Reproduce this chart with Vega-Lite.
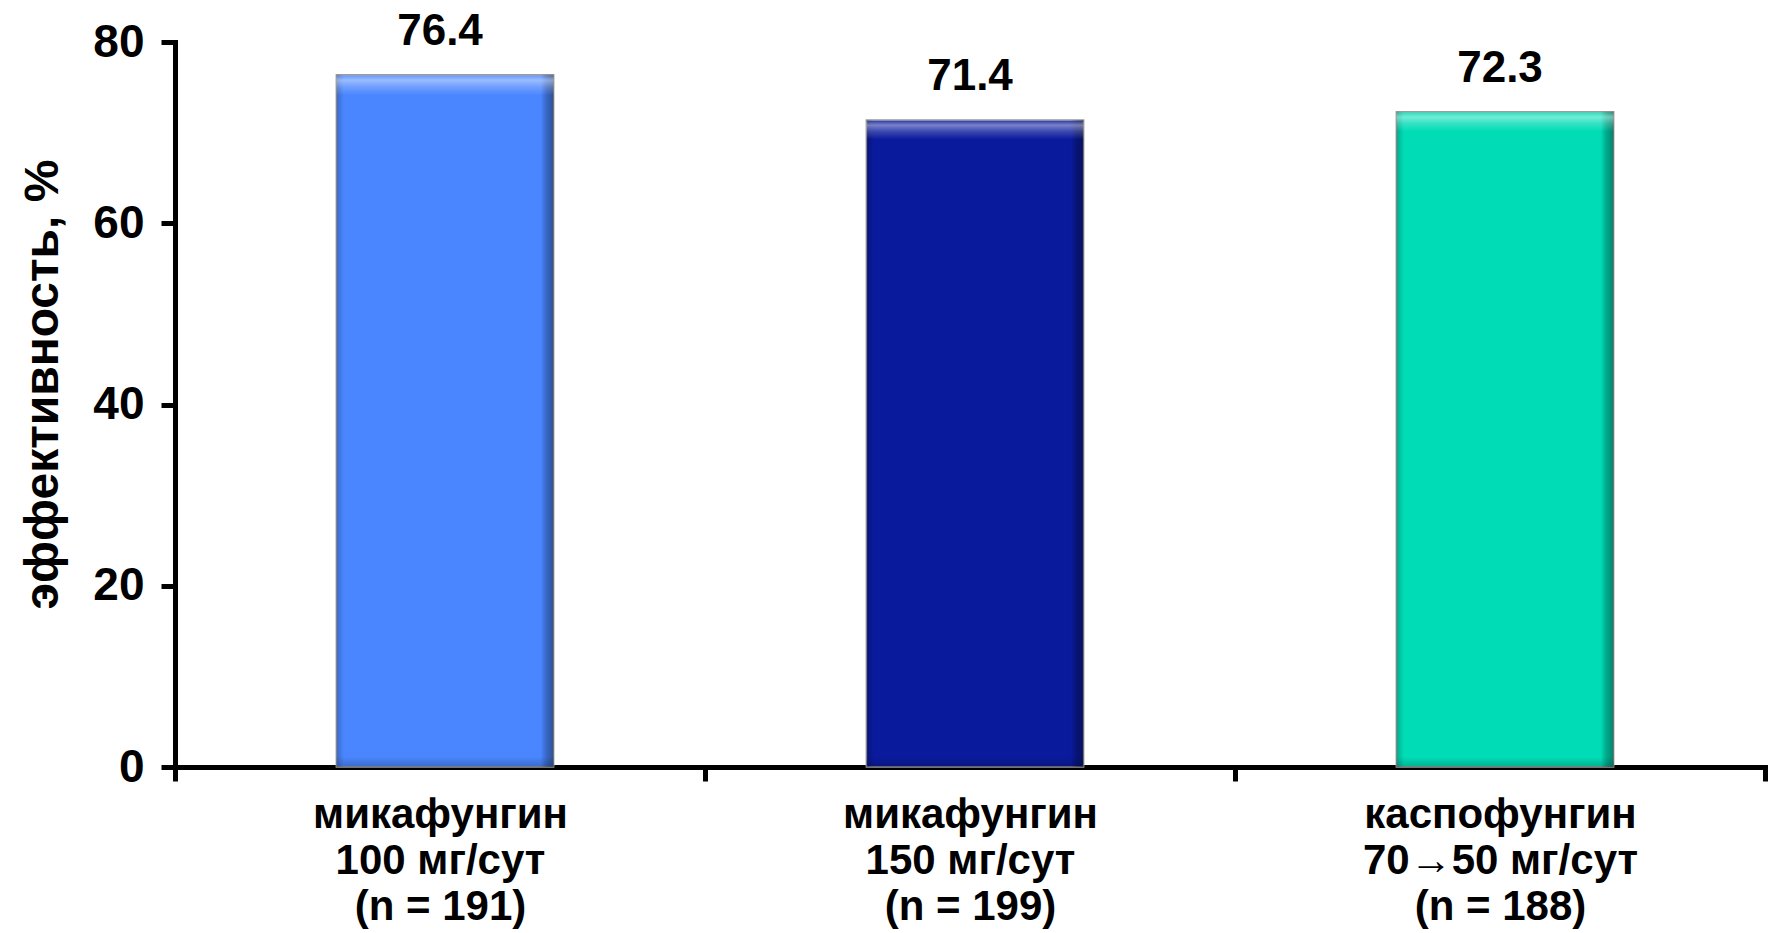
{
  "$schema": "https://vega.github.io/schema/vega-lite/v6.json",
  "width": 1590,
  "height": 725,
  "autosize": {"type": "none"},
  "padding": {"left": 175, "top": 42, "right": 7, "bottom": 166},
  "background": "white",
  "config": {
    "view": {"stroke": null},
    "font": "Liberation Sans",
    "axis": {
      "domainColor": "black",
      "domainWidth": 5,
      "domainCap": "square",
      "tickColor": "black",
      "tickWidth": 5,
      "tickSize": 14,
      "labelFont": "Liberation Sans",
      "labelFontWeight": "bold",
      "labelFontSize": 44,
      "labelColor": "black",
      "grid": false,
      "zindex": 1
    }
  },
  "data": {
    "values": [
      {"group": "микафунгин|100 мг/сут|(n = 191)", "efficacy": 76.4},
      {"group": "микафунгин|150 мг/сут|(n = 199)", "efficacy": 71.4},
      {"group": "каспофунгин|70→50 мг/сут|(n = 188)", "efficacy": 72.3}
    ]
  },
  "encoding": {
    "x": {
      "field": "group",
      "type": "nominal",
      "sort": null,
      "scale": {"paddingInner": 0, "paddingOuter": 0},
      "axis": {
        "title": null,
        "labelAngle": 0,
        "labelExpr": "split(datum.label, '|')",
        "labelFontSize": 42,
        "labelLineHeight": 46,
        "labelPadding": 13,
        "labelLimit": 0,
        "tickBand": "extent"
      }
    },
    "y": {
      "field": "efficacy",
      "type": "quantitative",
      "scale": {"domain": [0, 80], "nice": false},
      "axis": {
        "values": [0, 20, 40, 60, 80],
        "labelFontSize": 46,
        "labelPadding": 17,
        "labelFlush": false,
        "title": "эффективность, %",
        "titleFont": "Liberation Sans",
        "titleFontSize": 48,
        "titleFontWeight": "bold",
        "titleColor": "black",
        "titleAngle": -90,
        "titleAlign": "center",
        "titleBaseline": "middle",
        "titleX": -132,
        "titleY": 342
      }
    }
  },
  "layer": [
    {
      "mark": {"type": "bar", "width": {"band": 0.41}, "xOffset": 5, "stroke": "#9a9a9a", "strokeWidth": 1.5},
      "encoding": {
        "color": {
          "field": "group",
          "type": "nominal",
          "scale": {
            "domain": [
              "микафунгин|100 мг/сут|(n = 191)",
              "микафунгин|150 мг/сут|(n = 199)",
              "каспофунгин|70→50 мг/сут|(n = 188)"
            ],
            "range": ["#4A86FF", "#0A1A9C", "#00DCB5"]
          },
          "legend": null
        }
      }
    },
    {
      "mark": {
        "type": "bar",
        "width": {"band": 0.41},
        "xOffset": 5,
        "fill": {
          "gradient": "linear",
          "x1": 0, "y1": 0, "x2": 1, "y2": 0,
          "stops": [
            {"offset": 0, "color": "rgba(0,0,0,0.22)"},
            {"offset": 0.035, "color": "rgba(0,0,0,0)"},
            {"offset": 0.94, "color": "rgba(0,0,0,0)"},
            {"offset": 0.965, "color": "rgba(0,0,0,0.22)"},
            {"offset": 1, "color": "rgba(0,0,0,0.4)"}
          ]
        }
      }
    },
    {
      "mark": {
        "type": "bar",
        "width": {"band": 0.41},
        "xOffset": 5,
        "fill": {
          "gradient": "linear",
          "x1": 0, "y1": 0, "x2": 0, "y2": 1,
          "stops": [
            {"offset": 0, "color": "rgba(255,255,255,0.1)"},
            {"offset": 0.008, "color": "rgba(255,255,255,0.45)"},
            {"offset": 0.018, "color": "rgba(255,255,255,0.2)"},
            {"offset": 0.03, "color": "rgba(255,255,255,0)"},
            {"offset": 0.985, "color": "rgba(0,0,0,0)"},
            {"offset": 1, "color": "rgba(0,0,0,0.2)"}
          ]
        }
      }
    },
    {
      "mark": {
        "type": "text",
        "baseline": "alphabetic",
        "dy": -30,
        "font": "Liberation Sans",
        "fontSize": 44,
        "fontWeight": "bold",
        "color": "black"
      },
      "encoding": {
        "text": {"field": "efficacy", "type": "quantitative", "format": ".1f"}
      }
    }
  ]
}
